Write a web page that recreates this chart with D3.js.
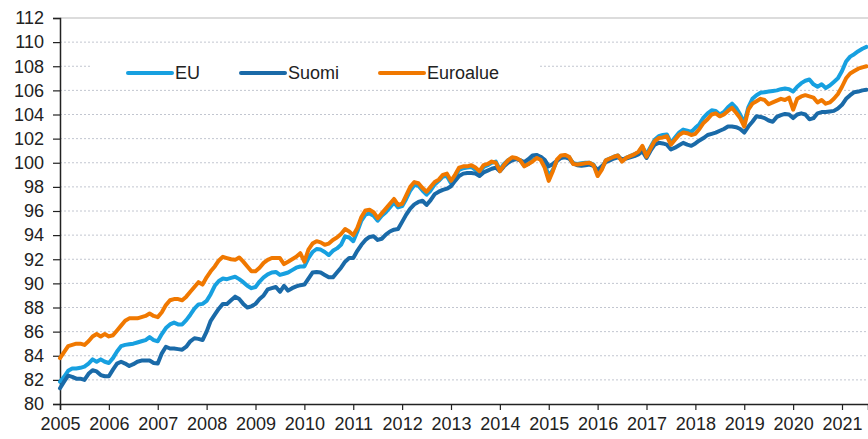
<!DOCTYPE html>
<html>
<head>
<meta charset="utf-8">
<script src="https://cdn.jsdelivr.net/npm/d3@7"></script>
<style>
  body { margin: 0; background: #fff; }
  svg { display: block; font-family: Arial, "Liberation Sans", sans-serif; }
</style>
</head>
<body>
<div id="vis-container"></div>
<script>
var startYear = 2005;
var yearTicks = d3.range(2005, 2022);
var valueTicks = d3.range(80, 113, 2);
var seriesNames = ["EU", "Suomi", "Euroalue"];

// monthly values, Jan 2005 - Jul 2021
var eu = [
  81.85, 82.25, 82.75, 82.95, 82.95, 83.0, 83.1, 83.35, 83.7, 83.5, 83.7, 83.5,
  83.4, 83.8, 84.35, 84.8, 84.9, 84.95, 85.0, 85.1, 85.2, 85.3, 85.55, 85.3,
  85.2, 85.8, 86.3, 86.6, 86.75, 86.6, 86.6, 86.95, 87.4, 87.9, 88.25, 88.3,
  88.55, 89.1, 89.8, 90.2, 90.4, 90.35, 90.45, 90.55, 90.35, 90.1, 89.8, 89.6,
  89.7, 90.15, 90.5, 90.75, 90.9, 90.95, 90.7, 90.8, 90.9, 91.1, 91.3, 91.4,
  91.4, 92.1, 92.6, 92.85, 92.8, 92.6, 92.35, 92.7, 92.9, 93.2, 93.9, 93.8,
  93.5, 94.3, 95.2, 95.7, 95.8, 95.6, 95.2, 95.6, 95.9, 96.3, 96.7, 96.3,
  96.4, 97.0, 97.7, 98.15, 98.1, 97.7, 97.35, 97.7, 98.2, 98.5, 98.85, 98.9,
  98.3, 98.9, 99.4, 99.55, 99.6, 99.65, 99.4, 99.2, 99.65, 99.8, 100.0, 100.1,
  99.4, 99.9, 100.2, 100.4, 100.35, 100.2, 99.75, 99.9, 100.2, 100.45, 100.3, 99.9,
  98.9, 99.4, 100.15, 100.5, 100.6, 100.45, 99.95, 99.9, 99.95, 100.0, 100.0, 99.85,
  99.1, 99.5, 100.2, 100.35, 100.5, 100.6, 100.15, 100.4, 100.55, 100.7, 100.85, 101.3,
  100.7, 101.3, 101.9, 102.2, 102.3, 102.35, 101.65, 102.1, 102.5, 102.75, 102.65, 102.55,
  102.9, 103.2, 103.75, 104.1, 104.35, 104.3, 104.0, 104.2, 104.6, 104.9, 104.55, 104.0,
  103.3, 104.6, 105.3, 105.6, 105.8, 105.85, 105.9, 105.95, 106.0, 106.1, 106.15, 106.1,
  105.9, 106.3, 106.6, 106.8, 106.9, 106.5, 106.3, 106.5, 106.2, 106.4, 106.7, 107.0,
  107.6, 108.4, 108.8, 109.0, 109.25, 109.45, 109.6
];

var suomi = [
  81.3, 81.85, 82.35, 82.25, 82.1, 82.1, 82.0, 82.5, 82.8, 82.7, 82.4, 82.3,
  82.3, 82.85, 83.35, 83.5, 83.35, 83.15, 83.3, 83.5, 83.6, 83.6, 83.6, 83.4,
  83.35, 84.2, 84.75, 84.6, 84.6, 84.55, 84.5, 84.75, 85.2, 85.45, 85.4, 85.3,
  86.0, 86.9, 87.4, 87.9, 88.3, 88.3, 88.6, 88.9, 88.7, 88.3, 88.0, 88.1,
  88.3, 88.7, 89.0, 89.5, 89.6, 89.7, 89.3, 89.8, 89.4, 89.6, 89.75, 89.85,
  89.9, 90.4, 90.9, 90.95, 90.9, 90.7, 90.5, 90.5, 90.9, 91.3, 91.8, 92.1,
  92.1, 92.7, 93.2, 93.6, 93.85, 93.9, 93.6, 93.7, 94.05, 94.3, 94.45, 94.5,
  95.1, 95.7, 96.2, 96.55, 96.75, 96.85, 96.5, 96.9, 97.4, 97.6, 97.75, 97.85,
  98.05, 98.5, 98.9, 99.1, 99.15, 99.15, 99.1, 98.9, 99.2, 99.35, 99.5, 99.6,
  99.3, 99.7, 100.0, 100.2, 100.3, 100.2, 100.05, 100.3, 100.6, 100.65, 100.5, 100.25,
  99.7, 99.9, 100.15, 100.4, 100.45, 100.35, 99.95, 99.8, 99.75, 99.8, 99.85, 99.75,
  99.4, 99.7, 100.05, 100.2, 100.35, 100.45, 100.3, 100.35, 100.45, 100.55, 100.7, 100.95,
  100.4, 101.0, 101.5, 101.65, 101.6, 101.5, 101.1, 101.25, 101.45, 101.65, 101.5, 101.4,
  101.6, 101.85, 102.05, 102.3, 102.4, 102.5, 102.65, 102.8, 103.0, 103.0, 102.95, 102.8,
  102.5, 103.0, 103.4, 103.85, 103.8, 103.7, 103.5, 103.4, 103.8, 103.95, 104.05, 104.0,
  103.7, 104.0, 104.1, 104.0, 103.6, 103.7, 104.1, 104.2, 104.2, 104.25, 104.3, 104.5,
  104.8, 105.3, 105.6, 105.85, 105.9, 106.0, 106.05
];

var euroalue = [
  83.8, 84.3, 84.8, 84.9, 85.0, 85.0, 84.9, 85.2, 85.6, 85.8, 85.6, 85.8,
  85.6, 85.7, 86.1, 86.5, 86.9, 87.1, 87.1, 87.1, 87.2, 87.3, 87.5, 87.3,
  87.2, 87.6, 88.2, 88.6, 88.7, 88.7, 88.6, 88.9, 89.3, 89.7, 90.1, 89.9,
  90.5, 91.0, 91.4, 91.9, 92.2, 92.1, 92.0, 91.95, 92.15, 91.8, 91.4, 91.0,
  91.0, 91.3, 91.7, 91.95, 92.1, 92.1, 92.1, 91.6, 91.8, 92.0, 92.2, 92.5,
  91.8, 92.8, 93.3, 93.5, 93.4, 93.2, 93.3, 93.6, 93.8, 94.1, 94.5, 94.3,
  94.0, 94.6, 95.5, 96.05, 96.1, 95.9, 95.4, 95.8, 96.2, 96.6, 97.0, 96.5,
  96.6, 97.3, 98.0, 98.4, 98.3, 97.9, 97.6, 98.0, 98.4, 98.6, 99.0, 99.1,
  98.5, 99.0, 99.6, 99.7, 99.7, 99.8, 99.6, 99.3, 99.8, 99.9, 100.1, 100.0,
  99.3, 99.8, 100.2, 100.45, 100.4, 100.2, 99.7, 99.9, 100.1, 100.4, 100.25, 99.6,
  98.5, 99.3, 100.25, 100.6, 100.65, 100.5, 99.9, 99.85, 99.9, 99.95, 100.0, 99.8,
  98.9, 99.4, 100.2, 100.35, 100.5, 100.6, 100.1, 100.4, 100.55, 100.7, 100.9, 101.4,
  100.5, 101.2, 101.8, 102.05, 102.1, 102.2, 101.5, 101.9, 102.3, 102.5, 102.45, 102.3,
  102.4, 102.8, 103.3, 103.6, 104.0, 104.1, 103.85, 104.0, 104.3, 104.55, 104.15, 103.7,
  103.0, 104.4, 104.9, 105.1, 105.3, 105.2, 104.85, 105.0, 105.15, 105.3, 105.2, 105.4,
  104.4, 105.3, 105.5, 105.6, 105.5, 105.4, 105.0, 105.2, 104.9, 105.0, 105.3, 105.7,
  106.3, 107.0, 107.4, 107.6, 107.8, 107.9, 108.0
];

var colors = { "EU": "#17a0e0", "Suomi": "#1a6aa8", "Euroalue": "#f07800" };

var makeVis = function() {
    var width = 868, height = 439;
    var left = 60, right = 868, top = 18, bottom = 404;

    var svg = d3.select("#vis-container")
        .append("svg")
        .attr("width", width)
        .attr("height", height);

    // 2005..2021 ticks are 48.875px apart, plot is cut at the right edge
    var xScale = d3.scaleLinear()
        .domain([2005, 2005 + (right - left) / 48.875])
        .range([left, right]);

    var yScale = d3.scaleLinear()
        .domain([80, 112])
        .range([bottom, top]);

    // gridlines
    svg.append("g").selectAll("line")
        .data(valueTicks.filter(function(d) { return d > 80; }))
        .enter().append("line")
        .attr("x1", left).attr("x2", right)
        .attr("y1", function(d) { return yScale(d); })
        .attr("y2", function(d) { return yScale(d); })
        .attr("stroke", function(d) { return d === 112 ? "#dcdcdc" : "#c2c6d0"; })
        .attr("stroke-width", function(d) { return d === 112 ? 2 : 1; })
        .attr("stroke-dasharray", function(d) { return d === 112 ? null : "2,2"; });

    // legend background hides the gridline behind it
    svg.append("rect")
        .attr("x", 90).attr("y", 46)
        .attr("width", 450).attr("height", 42)
        .attr("fill", "#fff");

    var yAxis = d3.axisLeft(yScale)
        .tickValues(valueTicks)
        .tickSize(7)
        .tickPadding(9);

    var xAxis = d3.axisBottom(xScale)
        .tickValues(yearTicks)
        .tickFormat(d3.format("d"))
        .tickSize(6)
        .tickPadding(7);

    var gy = svg.append("g")
        .attr("transform", "translate(" + left + ",0)")
        .call(yAxis);

    var gx = svg.append("g")
        .attr("transform", "translate(0," + bottom + ")")
        .call(xAxis);

    [gx, gy].forEach(function(g) {
        g.select(".domain").attr("stroke", "#222").attr("stroke-width", 1.5);
        g.selectAll(".tick line").attr("stroke", "#222").attr("stroke-width", 1.2);
        g.selectAll(".tick text")
            .attr("fill", "#222")
            .style("font-size", "18px")
            .style("font-family", "Arial, 'Liberation Sans', sans-serif");
    });

    var line = d3.line()
        .x(function(d, i) { return xScale(startYear + i / 12); })
        .y(function(d) { return yScale(d); });

    var seriesData = { "EU": eu, "Suomi": suomi, "Euroalue": euroalue };

    seriesNames.forEach(function(name) {
        svg.append("path")
            .datum(seriesData[name])
            .attr("fill", "none")
            .attr("stroke", colors[name])
            .attr("stroke-width", 4)
            .attr("stroke-linejoin", "round")
            .attr("stroke-linecap", "round")
            .attr("d", line);
    });

    // legend
    var legendPos = [128, 241, 380];
    var legend = svg.append("g").selectAll("g")
        .data(seriesNames)
        .enter().append("g")
        .attr("transform", function(d, i) { return "translate(" + legendPos[i] + ",73)"; });

    legend.append("line")
        .attr("x1", 0).attr("x2", 44)
        .attr("stroke", function(d) { return colors[d]; })
        .attr("stroke-width", 4)
        .attr("stroke-linecap", "round");

    legend.append("text")
        .attr("x", 47)
        .attr("dy", "0.35em")
        .attr("fill", "#222")
        .style("font-size", "18px")
        .text(function(d) { return d; });
};

makeVis();
</script>
</body>
</html>
